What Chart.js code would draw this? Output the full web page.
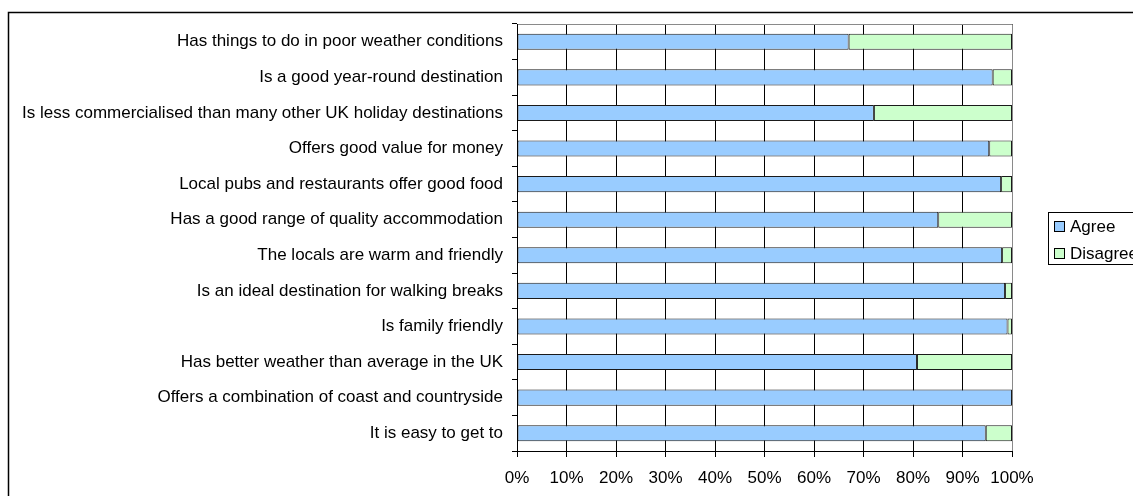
<!DOCTYPE html>
<html>
<head>
<meta charset="utf-8">
<script src="https://cdn.jsdelivr.net/npm/chart.js@4/dist/chart.umd.min.js"></script>
<style>
  html, body { margin: 0; padding: 0; background: #fff; overflow: hidden; }
  #wrap { width: 1133px; height: 496px; position: relative; }
</style>
</head>
<body>
<div id="wrap"><canvas id="chart" width="1133" height="496"></canvas></div>
<script>
const statements = [
  "Has things to do in poor weather conditions",
  "Is a good year-round destination",
  "Is less commercialised than many other UK holiday destinations",
  "Offers good value for money",
  "Local pubs and restaurants offer good food",
  "Has a good range of quality accommodation",
  "The locals are warm and friendly",
  "Is an ideal destination for walking breaks",
  "Is family friendly",
  "Has better weather than average in the UK",
  "Offers a combination of coast and countryside",
  "It is easy to get to",
];
const agree = [67.0, 96.1, 72.1, 95.4, 97.8, 85.1, 98.0, 98.6, 99.1, 80.8, 100, 94.7];
const disagree = [33.0, 3.9, 27.9, 4.6, 2.2, 14.9, 2.0, 1.4, 0.9, 19.2, 0, 5.3];
const seriesNames = ["Agree", "Disagree"];
const seriesColors = ["#99CCFF", "#CCFFCC"];

const FONT = "'Liberation Sans', Arial, sans-serif";

// outer frame, plot border and the boxed legend (Excel style)
const frame = {
  id: "frame",
  beforeDraw(chart) {
    const ctx = chart.ctx;
    ctx.save();
    ctx.strokeStyle = "#000";
    ctx.lineWidth = 1.5;
    ctx.strokeRect(8.5, 12.5, 1300, 600);
    ctx.restore();
  },
  afterDatasetsDraw(chart) {
    const { ctx, chartArea: a } = chart;
    ctx.save();
    ctx.strokeStyle = "#8a8a8a";
    ctx.lineWidth = 1;
    ctx.beginPath();
    ctx.moveTo(a.left, a.top + 0.5);
    ctx.lineTo(a.right + 0.5, a.top + 0.5);
    ctx.lineTo(a.right + 0.5, a.bottom);
    ctx.stroke();
    ctx.strokeStyle = "#000";
    ctx.beginPath();
    ctx.moveTo(a.left + 0.5, a.top);
    ctx.lineTo(a.left + 0.5, a.bottom + 0.5);
    ctx.lineTo(a.right + 0.5, a.bottom + 0.5);
    ctx.stroke();

    // legend
    const lx = 1048, ly = 212;
    ctx.strokeStyle = "#000";
    ctx.lineWidth = 1;
    ctx.fillStyle = "#fff";
    ctx.fillRect(lx, ly, 200, 52);
    ctx.strokeRect(lx + 0.5, ly + 0.5, 200, 52);
    ctx.font = "17px " + FONT;
    ctx.textBaseline = "middle";
    chart.data.datasets.forEach((ds, i) => {
      const cy = 226 + i * 27;
      ctx.fillStyle = ds.backgroundColor;
      ctx.fillRect(1054.5, cy - 4.5, 10, 10);
      ctx.strokeRect(1054.5, cy - 4.5, 10, 10);
      ctx.fillStyle = "#000";
      ctx.fillText(ds.label, 1070, cy + 1);
    });
    ctx.restore();
  },
};

new Chart(document.getElementById("chart"), {
  type: "bar",
  data: {
    labels: statements,
    datasets: [
      { label: seriesNames[0], data: agree, backgroundColor: seriesColors[0] },
      { label: seriesNames[1], data: disagree, backgroundColor: seriesColors[1] },
    ].map((d) => ({
      ...d,
      borderColor: "#1a1a1a",
      borderWidth: 1,
      borderSkipped: false,
      categoryPercentage: 1,
      barPercentage: 0.45,
    })),
  },
  options: {
    indexAxis: "y",
    responsive: false,
    animation: false,
    layout: { padding: { top: 24, right: 121, left: 0, bottom: 0 } },
    plugins: { legend: { display: false }, tooltip: { enabled: false } },
    scales: {
      x: {
        stacked: true,
        min: 0,
        max: 100,
        ticks: {
          stepSize: 10,
          color: "#000",
          padding: 11,
          font: { family: FONT, size: 17 },
          callback: (v) => v + "%",
        },
        grid: { color: "#000", lineWidth: 1, tickLength: 6, tickColor: "#000" },
        border: { display: false },
        afterFit: (s) => { s.height = 45; },
      },
      y: {
        stacked: true,
        ticks: { color: "#000", padding: 9, font: { family: FONT, size: 17 } },
        grid: { offset: true, drawOnChartArea: false, tickLength: 5, tickColor: "#000" },
        border: { display: false },
        afterFit: (s) => { s.width = 517; },
      },
    },
  },
  plugins: [frame],
});
</script>
</body>
</html>
